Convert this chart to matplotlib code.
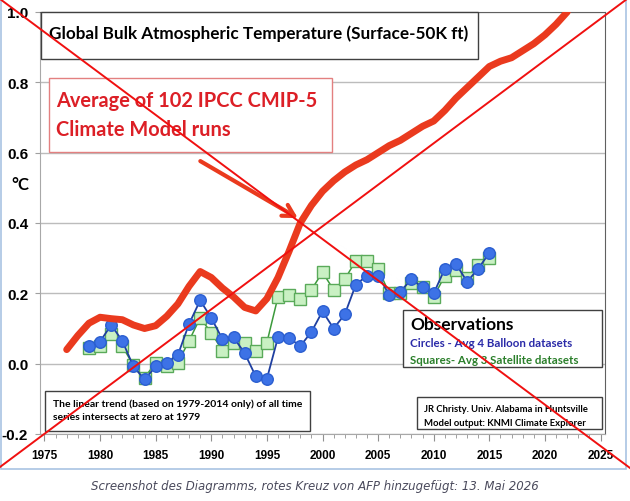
import matplotlib.pyplot as plt
import numpy as np
from matplotlib.patches import Rectangle
from matplotlib.lines import Line2D

# --- данные ---
model_years = list(range(1977, 2023))
model = [0.04, 0.08, 0.115, 0.132, 0.128, 0.125, 0.11, 0.10, 0.108, 0.135,
         0.17, 0.22, 0.262, 0.245, 0.215, 0.19, 0.16, 0.15, 0.185, 0.245,
         0.32, 0.40, 0.45, 0.49, 0.52, 0.545, 0.565, 0.58, 0.60, 0.62,
         0.635, 0.655, 0.675, 0.69, 0.72, 0.755, 0.785, 0.815, 0.845, 0.86,
         0.87, 0.89, 0.91, 0.935, 0.965, 1.0]

obs_years = list(range(1979, 2016))
balloons = [0.05, 0.063, 0.11, 0.065, -0.008, -0.045, -0.008, 0.003, 0.025, 0.113,
            0.18, 0.13, 0.07, 0.075, 0.03, -0.036, -0.043, 0.075, 0.073, 0.05,
            0.09, 0.149, 0.10, 0.14, 0.225, 0.25, 0.25, 0.196, 0.205, 0.24,
            0.217, 0.20, 0.27, 0.284, 0.233, 0.27, 0.315]
satellites = [0.045, 0.05, 0.085, 0.05, -0.005, -0.04, 0.003, -0.008, 0.003, 0.065,
              0.13, 0.088, 0.037, 0.06, 0.06, 0.037, 0.06, 0.19, 0.195, 0.185,
              0.21, 0.26, 0.21, 0.24, 0.293, 0.293, 0.27, 0.20, 0.20, 0.23,
              0.217, 0.19, 0.25, 0.265, 0.245, 0.28, 0.30]

xticks = list(range(1975, 2030, 5))
yticks = [-0.2, 0.0, 0.2, 0.4, 0.6, 0.8, 1.0]

W, H = 630, 502


def fx(x):
    return x / W


def fy(y):
    return 1 - y / H


fig = plt.figure(figsize=(W / 100, H / 100), dpi=100)
fig.patch.set_facecolor('white')

# Оси графика
ax = fig.add_axes([fx(40), fy(435), (605 - 40) / W, (435 - 13) / H])
ax.set_xlim(1974.6, 2025.4)
ax.set_ylim(-0.2, 1.0)

ax.grid(axis='y', color='#bcbcbc', lw=1)
ax.set_axisbelow(True)

ax.plot(obs_years, satellites, color='#3c9a3c', lw=1.1, marker='s', ms=8,
        mfc='#c9f0c3', mec='#5aaa5a', mew=1, zorder=3)
ax.plot(obs_years, balloons, color='#1f3fa0', lw=1.3, marker='o', ms=8.3,
        mfc='#3d72e6', mec='#2b5ed0', mew=1, zorder=4)
ax.plot(model_years, model, color='#ea3a1e', lw=5, solid_capstyle='round',
        solid_joinstyle='round', zorder=5)

ax.set_xticks(xticks)
ax.set_xticks(range(1975, 2026), minor=True)
ax.set_yticks(yticks)
ax.set_yticklabels(['%.1f' % v for v in yticks])
ax.tick_params(axis='y', length=3.5, color='#a0a0a0', pad=5, labelsize=11)
ax.tick_params(axis='x', which='major', length=5, color='#909090', pad=6, labelsize=8.5)
ax.tick_params(axis='x', which='minor', length=3, color='#909090')
for lab in ax.get_xticklabels() + ax.get_yticklabels():
    lab.set_fontweight('bold')
    lab.set_family(['Liberation Sans', 'DejaVu Sans'])
for s in ['left', 'bottom']:
    ax.spines[s].set_color('#a8a8a8')
for s in ['right', 'top']:
    ax.spines[s].set_color('#606060')

# Стрелка к модельной кривой
ax.annotate('', xy=(1998.0, 0.41), xytext=(1988.8, 0.58),
            arrowprops=dict(arrowstyle='->,head_length=0.8,head_width=0.45',
                            color='#ea3a1e', lw=3), zorder=6)


def box(x0, y0, x1, y1, ec, lw=1.0):
    fig.add_artist(Rectangle((fx(x0), fy(y1)), (x1 - x0) / W, (y1 - y0) / H,
                             transform=fig.transFigure, fc='white', ec=ec, lw=lw,
                             zorder=7))


def txt(x, y, s, **kw):
    fig.text(fx(x), fy(y), s, va='center', ha='left', zorder=8, **kw)


# Заголовок
box(41, 13, 478, 60, '#404040')
txt(49, 34, 'Global Bulk Atmospheric Temperature (Surface-50K ft)',
    family='Lato', fontweight='bold', fontsize=12.3, color='black')

# Красная надпись
box(49, 79, 332, 153, '#e38080')
txt(56, 101, 'Average of 102 IPCC CMIP-5', family='Lato', fontweight='bold',
    fontsize=14.4, color='#dc1f26')
txt(56, 130, 'Climate Model runs', family='Lato', fontweight='bold',
    fontsize=14.4, color='#dc1f26')

# °C
fig.text(fx(20), fy(185), '°C', ha='center', va='center', family='Lato',
         fontweight='bold', fontsize=12)

# Легенда наблюдений
box(403, 311, 602, 368, '#404040')
txt(410, 325, 'Observations', family='Lato', fontweight='bold', fontsize=12.5)
txt(410, 344, 'Circles - Avg 4 Balloon datasets', family='Lato',
    fontweight='bold', fontsize=8.3, color='#2a2aa8')
txt(410, 361, 'Squares- Avg 3 Satellite datasets', family='Lato',
    fontweight='bold', fontsize=8.3, color='#2a7f2a')

# Пояснения внизу
box(45, 392, 310, 432, '#404040')
txt(53, 404, 'The linear trend (based on 1979-2014 only) of all time',
    family='Lato', fontweight='bold', fontsize=7.5)
txt(53, 418, 'series intersects at zero at 1979', family='Lato',
    fontweight='bold', fontsize=7.5)

box(417, 398, 602, 430, '#404040')
txt(424, 409, 'JR Christy. Univ. Alabama in Huntsville',
    family='Lato', fontweight='bold', fontsize=6.8)
txt(424, 423, 'Model output: KNMI Climate Explorer',
    family='Lato', fontweight='bold', fontsize=6.8)

# Рамка скриншота
fig.add_artist(Rectangle((fx(1), fy(470)), (626 - 1) / W, 470 / H,
                         transform=fig.transFigure, fill=False, ec='#a9c3e3',
                         lw=1.2, zorder=9))

# Красный крест AFP
fig.add_artist(Line2D([fx(0), fx(630)], [fy(0), fy(469)], transform=fig.transFigure,
                      color='#f01010', lw=1.4, zorder=10))
fig.add_artist(Line2D([fx(627), fx(0)], [fy(0), fy(468)], transform=fig.transFigure,
                      color='#f01010', lw=1.4, zorder=10))

# Подпись
fig.text(0.5, fy(487), 'Screenshot des Diagramms, rotes Kreuz von AFP hinzugefügt: 13. Mai 2026',
         ha='center', va='center', fontsize=8.5, style='italic',
         family='DejaVu Sans', color='#4a4a5c')

fig.savefig('out.png', dpi=100)
